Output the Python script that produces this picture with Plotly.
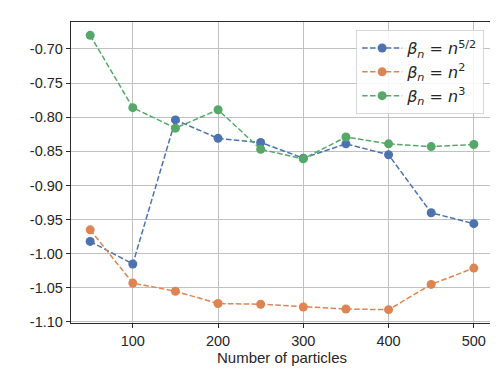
import plotly.graph_objects as go

# ------------------- Data -------------------
n_particles = [50, 100, 150, 200, 250, 300, 350, 400, 450, 500]
beta_n52 = [-0.982, -1.015, -0.804, -0.831, -0.837, -0.860, -0.839, -0.855, -0.940, -0.956]
beta_n2 = [-0.965, -1.043, -1.055, -1.073, -1.074, -1.078, -1.081, -1.082, -1.045, -1.021]
beta_n3 = [-0.680, -0.786, -0.816, -0.789, -0.847, -0.861, -0.829, -0.839, -0.843, -0.840]

series_names = [
    "<i>β</i><sub><i>n</i></sub> = <i>n</i><sup>5/2</sup>",
    "<i>β</i><sub><i>n</i></sub> = <i>n</i><sup>2</sup>",
    "<i>β</i><sub><i>n</i></sub> = <i>n</i><sup>3</sup>",
]
colors = ["#4c72b0", "#dd8452", "#55a868"]

x_ticks = [100, 200, 300, 400, 500]
y_ticks = [-0.70, -0.75, -0.80, -0.85, -0.90, -0.95, -1.00, -1.05, -1.10]
y_ticktext = ["-0.70", "-0.75", "-0.80", "-0.85", "-0.90", "-0.95", "-1.00", "-1.05", "-1.10"]

# ------------------- Figure -------------------
fig = go.Figure()
for name, ys, c in zip(series_names, [beta_n52, beta_n2, beta_n3], colors):
    fig.add_trace(go.Scatter(
        x=n_particles, y=ys, name=name, mode="lines+markers",
        line=dict(color=c, width=1.5, dash="5.5px,2.4px"),
        marker=dict(color=c, size=9),
    ))

axis_common = dict(
    showgrid=True, gridcolor="#c0c0c0", gridwidth=1.3,
    showline=True, linecolor="#2a2a2a", linewidth=1.4, mirror=True,
    ticks="outside", ticklen=4, tickcolor="#2a2a2a",
    zeroline=False,
    tickfont=dict(size=14.5, color="#262626"),
)

fig.update_layout(
    width=498, height=374,
    margin=dict(l=63, r=13, t=14, b=59),
    paper_bgcolor="white", plot_bgcolor="white",
    font=dict(family="Liberation Sans, Arial, sans-serif", color="#262626"),
    xaxis=dict(range=[27.5, 522.5], tickvals=x_ticks,
               title=dict(text="Number of particles", font=dict(size=15), standoff=2),
               **axis_common),
    yaxis=dict(range=[-1.1015, -0.6605], tickvals=y_ticks, ticktext=y_ticktext,
               **axis_common),
    legend=dict(x=0.979, y=0.973, xanchor="right", yanchor="top",
                bgcolor="rgba(255,255,255,0.85)", bordercolor="#d6d6d6", borderwidth=1,
                font=dict(size=16, family="DejaVu Sans, sans-serif"),
                itemwidth=40, tracegroupgap=2),
    showlegend=True,
)

fig.write_html("out.html")
